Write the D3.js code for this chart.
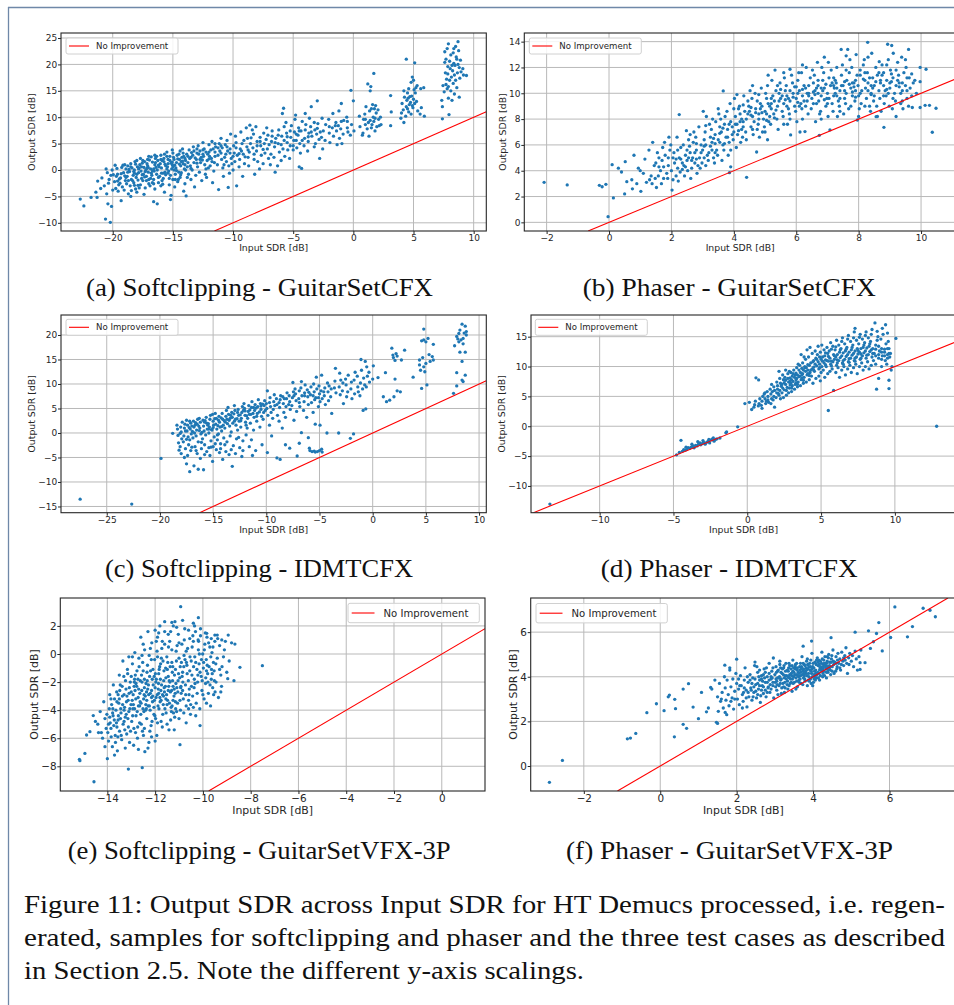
<!DOCTYPE html>
<html><head><meta charset="utf-8">
<script src="https://cdn.jsdelivr.net/npm/d3@7"></script>
<style>body{margin:0;background:#fff}svg{display:block}</style>
</head><body><svg id="fig" width="954" height="1005"></svg>
<script>
// ---------------- DATA ----------------
// (a) Softclipping - GuitarSetCFX : [input SDR, output SDR]
const softclipGuitarSetCFX = [
[-22.7,-5.5],[-22.4,-6.8],[-21.8,-5.2],[-21.3,-5.2],[-21.25,-2.1],[-21.4,-4.2],[-21.0,-3.5],[-20.9,-1.5],
[-20.6,-9.3],[-20.55,0.2],[-20.7,-3.0],[-20.5,-4.5],[-20.4,-6.4],[-20.35,-2.5],[-20.45,-0.5],[-20.2,-9.9],[-20.15,-1.0],[-20.1,-6.9],[-20.0,-3.8],[-20.05,0.0],
[-19.8,0.9],[-19.85,-2.2],[-19.7,-1.2],[-19.75,-3.5],[-19.6,-0.8],[-19.5,-2.8],[-19.65,0.3],[-19.55,-4.0],[-19.3,-5.8],[-19.35,-1.5],[-19.25,0.5],[-19.4,-2.5],[-19.2,-3.2],[-19.0,1.0],[-19.1,-0.5],[-18.95,-2.0],[-19.05,-3.8],[-18.9,0.2],
[-18.8,-1.2],[-18.75,0.8],[-18.85,-2.6],[-18.7,-4.5],[-18.5,1.2],[-18.6,-0.3],[-18.45,-1.8],[-18.55,-3.0],[-18.4,0.4],[-18.5,-5.0],[-18.2,0.0],[-18.3,-1.0],[-18.15,1.6],[-18.25,-2.4],[-18.1,-3.6],[-18.2,-0.6],[-18.0,1.8],[-17.95,0.6],[-18.05,-1.4],[-17.9,-2.9],[-18.0,-4.2],[-17.85,0.2],
[-17.7,2.2],[-17.75,1.0],[-17.65,-0.2],[-17.6,-1.6],[-17.7,-2.8],[-17.55,-0.9],[-17.4,0.5],[-17.45,-0.8],[-17.35,1.6],[-17.5,-2.0],[-17.3,-3.4],[-17.4,-4.6],[-17.25,0.0],[-17.1,2.0],[-17.15,1.2],[-17.05,-0.4],[-17.2,-1.2],[-17.0,-2.6],[-17.1,0.8],[-16.8,2.5],[-16.85,0.2],[-16.75,-1.0],[-16.9,-3.0],[-16.7,1.5],[-16.8,-0.6],
[-16.5,1.0],[-16.55,-0.2],[-16.45,2.2],[-16.6,-1.8],[-16.5,-3.6],[-16.4,0.5],[-16.6,-6.0],[-16.3,-6.4],[-16.25,1.8],[-16.35,-0.8],[-16.2,-2.4],[-16.3,0.0],[-16.0,2.8],[-16.05,1.2],[-15.95,0.4],[-16.1,-1.2],[-15.9,-2.0],[-16.0,-3.0],[-15.7,3.0],[-15.75,1.6],[-15.65,-0.4],[-15.8,-1.6],[-15.6,0.8],[-15.7,-4.2],
[-15.4,2.0],[-15.45,0.6],[-15.35,-0.2],[-15.5,3.4],[-15.3,-2.8],[-15.4,1.2],[-15.2,-5.6],[-15.15,-4.8],[-15.25,1.8],[-15.1,0.2],[-15.2,-1.0],[-15.0,3.2],[-14.95,2.4],[-15.05,1.0],[-14.9,0.0],[-15.0,-1.8],[-14.85,-3.2],[-15.05,3.8],[-14.7,1.4],[-14.75,0.4],[-14.65,2.8],[-14.8,-0.8],[-14.6,-2.2],
[-14.4,3.6],[-14.45,2.0],[-14.35,0.8],[-14.5,-0.4],[-14.3,1.6],[-14.4,-1.4],[-14.1,2.6],[-14.15,1.2],[-14.05,0.2],[-14.2,4.0],[-14.0,-2.6],[-14.1,-4.0],[-13.9,-4.9],[-13.85,3.0],[-13.95,1.8],[-13.8,0.6],[-13.6,2.2],[-13.65,3.8],[-13.55,0.8],[-13.7,-0.8],[-13.5,-1.8],
[-13.3,4.4],[-13.35,2.8],[-13.25,1.4],[-13.4,0.0],[-13.2,-3.2],[-13.0,3.2],[-13.05,2.0],[-12.95,0.6],[-13.1,-1.0],[-12.9,4.6],[-12.7,1.4],[-12.75,3.6],[-12.65,2.4],[-12.8,-0.4],[-12.6,-2.0],[-12.4,4.0],[-12.45,2.6],[-12.35,1.0],[-12.5,5.2],[-12.3,-0.8],
[-12.1,3.0],[-12.15,1.8],[-12.05,0.4],[-12.2,-1.4],[-12.0,4.8],[-11.8,2.2],[-11.85,3.8],[-11.75,5.4],[-11.9,0.8],[-11.7,-2.4],[-11.5,3.4],[-11.55,1.4],[-11.45,4.4],[-11.6,-0.2],[-11.2,-3.7],[-11.25,2.8],[-11.15,5.0],[-11.3,1.0],[-11.1,3.6],
[-10.9,4.2],[-10.95,2.0],[-10.85,0.4],[-11.0,6.0],[-10.8,-1.2],[-10.6,3.0],[-10.65,4.8],[-10.55,1.6],[-10.7,2.4],[-10.4,-3.3],[-10.45,3.6],[-10.35,0.8],[-10.5,5.6],[-10.2,6.8],[-10.25,4.0],[-10.15,2.2],[-10.3,-0.6],[-10.1,1.2],
[-9.9,3.2],[-9.95,4.6],[-9.85,1.6],[-10.0,0.0],[-9.7,-3.0],[-9.75,5.2],[-9.65,2.8],[-9.8,6.4],[-9.4,4.0],[-9.45,2.0],[-9.35,7.2],[-9.5,0.6],[-9.3,3.6],[-9.1,5.6],[-9.15,3.0],[-9.05,1.2],[-9.2,-1.2],
[-8.8,6.0],[-8.85,4.4],[-8.75,2.4],[-8.9,8.0],[-8.6,8.5],[-8.65,3.4],[-8.55,5.0],[-8.7,0.8],[-8.3,6.8],[-8.35,4.2],[-8.25,2.0],[-8.4,7.6],[-8.2,-0.8],[-8.0,5.4],[-8.05,3.6],[-7.95,1.6],[-8.1,8.2],
[-7.7,4.6],[-7.75,6.2],[-7.65,2.8],[-7.8,0.2],[-7.4,5.0],[-7.45,7.0],[-7.35,3.2],[-7.5,1.2],[-7.1,6.6],[-7.15,4.0],[-7.05,2.2],[-7.2,8.0],[-6.8,5.4],[-6.85,3.0],[-6.75,7.4],[-6.9,1.0],
[-6.5,-0.4],[-6.55,4.4],[-6.45,6.0],[-6.6,2.4],[-6.2,7.6],[-6.25,5.0],[-6.15,3.4],[-6.3,0.8],[-5.9,10.7],[-5.95,6.4],[-5.85,4.0],[-6.0,1.8],[-5.8,11.7],[-5.75,8.2],[-5.7,2.6],
[-5.5,5.2],[-5.55,7.0],[-5.45,3.8],[-5.6,9.0],[-5.2,6.2],[-5.25,4.6],[-5.15,8.4],[-5.3,2.2],[-4.9,7.2],[-4.95,5.6],[-4.85,9.6],[-5.0,3.8],[-4.8,10.4],[-4.75,6.8],[-4.7,4.2],
[-4.5,0.6],[-4.55,8.0],[-4.45,5.0],[-4.6,6.6],[-4.3,0.3],[-4.35,7.4],[-4.25,9.2],[-4.4,3.2],[-4.0,10.7],[-4.05,6.0],[-3.95,8.6],[-4.1,4.6],[-3.7,7.0],[-3.75,5.4],[-3.65,9.8],[-3.8,3.6],
[-3.5,12.0],[-3.55,8.2],[-3.45,6.4],[-3.2,7.6],[-3.25,9.0],[-3.15,5.0],[-3.0,13.1],[-3.05,6.8],[-2.95,8.8],[-2.8,2.2],[-2.85,5.8],[-2.75,7.2],
[-2.6,9.8],[-2.65,6.2],[-2.55,4.0],[-2.3,8.6],[-2.35,5.6],[-2.0,7.0],[-2.05,9.6],[-1.95,5.2],[-1.7,10.7],[-1.75,8.0],[-1.65,6.4],
[-1.4,7.4],[-1.45,9.0],[-1.35,4.8],[-1.2,11.2],[-1.25,8.4],[-1.15,6.0],[-1.0,12.6],[-1.05,7.8],[-0.95,5.0],[-0.8,9.4],[-0.85,6.8],
[-0.5,8.0],[-0.55,10.0],[-0.45,7.2],[-0.2,15.1],[-0.25,6.6],[-0.15,8.6],[0.0,13.1],[0.05,7.4],
[0.5,10.2],[0.55,8.2],[0.8,7.0],[0.85,9.6],[0.75,6.6],[1.0,8.6],[1.05,12.0],[0.95,10.6],[1.2,16.3],[1.25,9.0],[1.15,7.8],[1.4,15.0],[1.45,15.8],[1.35,11.2],[1.4,9.4],[1.5,8.0],[1.3,6.4],[1.6,12.4],[1.65,10.0],[1.55,8.6],[1.7,18.3],[1.75,11.6],[1.7,9.2],[1.8,7.4],[1.9,10.8],[1.95,8.2],[1.85,12.2],[2.1,9.6],[2.15,8.4],[2.05,11.4],[2.3,8.6],[2.25,10.0],
[3.1,14.1],[3.1,8.4],[3.15,11.0],
[4.0,10.8],[4.05,12.6],[3.95,9.8],[4.2,9.0],[4.25,13.8],[4.15,11.4],[4.2,15.0],[4.4,21.0],[4.45,13.2],[4.35,10.2],[4.4,12.0],[4.5,14.6],[4.6,15.4],[4.65,12.4],[4.55,13.6],[4.6,11.0],[4.8,16.6],[4.85,14.0],[4.75,12.8],[4.8,10.6],[4.9,17.6],[5.0,13.4],[5.05,15.2],[4.95,11.8],[5.0,17.0],[5.1,20.3],[5.15,14.6],[5.1,12.6],[5.3,16.0],[5.35,11.2],[5.25,13.0],[5.6,15.4],[5.65,11.8],[5.55,10.6],[5.9,10.2],[5.85,15.6],
[7.4,9.7],[7.45,16.0],[7.35,13.2],[7.4,12.0],[7.6,20.4],[7.65,18.4],[7.55,14.8],[7.6,22.4],[7.8,23.0],[7.85,19.6],[7.75,17.2],[7.8,15.4],[7.9,13.6],[7.7,21.0],[7.9,23.9],[7.95,10.5],[7.85,18.2],[8.0,20.6],[8.1,21.8],[8.15,17.6],[8.05,19.2],[8.1,15.0],[8.2,13.2],[8.3,22.2],[8.35,20.2],[8.25,18.8],[8.3,16.4],[8.4,14.4],[8.5,23.4],[8.55,21.4],[8.45,19.8],[8.5,17.0],[8.6,15.6],[8.7,24.3],[8.75,22.6],[8.65,18.4],[8.7,20.0],[8.8,13.8],[8.9,20.8],[8.95,18.6],[8.85,17.4],[9.1,19.2],[9.15,18.0],[9.4,17.9],
[-19.45,-1.7],[-19.15,0.9],[-18.9,-1.4],[-18.65,0.1],[-18.35,-2.0],[-18.1,1.1],[-17.85,-0.5],[-17.6,0.6],[-17.35,-1.3],[-17.15,0.3],[-16.95,1.9],[-16.7,-0.2],[-16.45,1.4],[-16.2,0.9],[-15.95,-0.6],[-15.75,2.2],[-15.5,0.2],[-15.25,2.6],[-15.05,1.5],[-14.85,0.9],[-14.6,2.1],[-14.35,-0.9],[-14.15,3.2],[-13.95,0.0],[-13.75,1.4],[-13.45,3.3],[-13.15,2.3],[-12.85,3.0],[-12.55,1.9],[-12.25,3.4],[-11.95,2.6],[-11.65,4.0],[-16.6,-2.6],[-17.9,-1.9],[-15.85,-2.7],[-14.55,-1.8],[-18.45,-3.9],[-17.0,-1.8],[-15.6,-0.9],[-14.2,1.7],
[-20.3,-1.8],[-19.95,-0.9],[-19.6,-2.1],[-19.3,-0.7],[-19.0,-1.1],[-18.75,-0.4],[-18.5,0.6],[-18.25,-0.3],[-18.0,-0.8],[-17.8,0.4],[-17.55,1.3],[-17.3,-0.3],[-17.05,0.5],[-16.85,-1.6],[-16.6,0.2],[-16.35,2.6],[-16.15,0.6],[-15.9,1.8],[-15.65,1.1],[-15.4,-0.6],[-15.15,1.3],[-14.9,2.0],[-14.7,-0.1],[-14.45,1.1],[-14.25,2.4],[-14.0,1.0],[-13.75,2.6],[-13.5,0.3],[-13.25,3.6],[-13.0,1.3],[-12.75,2.0],[-12.5,3.0],[-12.25,0.2],[-12.0,2.1],[-11.75,1.6],[-11.5,2.6],[-11.25,4.2],[-11.0,3.2],[-10.75,1.0],[-10.5,4.4],[-10.25,3.2],[-10.0,2.6],[-9.75,4.2],[-9.5,3.1],[-9.25,5.0],[-9.0,2.5],[-8.75,3.8],[-8.5,6.1],[-8.25,3.0],[-8.0,4.6],[-7.75,5.4],[-7.5,3.9],[-7.25,5.8],[-7.0,4.8],[-6.75,6.4],[-6.5,5.2],[-6.25,6.6],[-6.0,4.8],[-5.75,5.6],[-5.5,6.3],[-5.25,7.4],[-5.0,4.6],[-4.75,5.6],[-4.5,7.4],[-4.25,5.6],[-4.0,7.6],[-3.75,6.3],[-3.5,7.2],[-3.25,4.4],[-3.0,7.9],[-2.5,7.4],[-2.0,8.2],[-1.5,8.4],[-1.0,9.2],[-0.5,9.2],[-18.7,-2.0],[-18.2,-2.9],[-17.8,-3.4],[-17.2,-2.0],[-16.7,-2.4],[-16.2,-1.4],[-15.8,-0.6],[-15.3,-1.6],[-14.8,-1.8],[-14.3,-0.5],[-13.8,-1.4],[-17.5,1.8],[-17.0,2.6],[-16.5,2.8],[-16.0,2.0],[-15.5,2.6],[-15.0,0.6],[-14.5,3.0],[-14.0,2.2],[-13.5,2.4],[-13.0,4.0],[-12.5,3.8],[-12.0,3.4],[-11.5,5.0],[-11.0,4.6],[1.0,9.6],[1.5,11.6],[1.8,9.8],[4.5,11.6],[4.7,13.9],[4.9,12.2],[5.2,15.6],[7.7,16.2],[8.0,17.0],[8.2,19.8],[8.4,18.0],[8.6,21.0],[8.8,19.4],[7.9,15.8],[8.35,23.0]
];

// (b) Phaser - GuitarSetCFX
const phaserGuitarSetCFX = [
[-2.08,3.1],[-1.34,2.9],[-0.31,2.87],[-0.22,2.76],[-0.1,2.95],[-0.03,0.44],
[0.1,4.47],[0.14,1.89],[0.3,4.2],[0.4,3.9],[0.5,2.2],[0.52,4.7],[0.57,3.15],[0.73,3.3],[0.75,2.6],[0.8,5.2],[0.89,3.0],[0.94,4.2],[1.0,4.0],[1.02,2.4],[1.1,3.8],[1.15,4.9],[1.2,3.1],
[1.3,3.3],[1.35,3.6],[1.28,5.6],[1.4,6.2],[1.45,4.4],[1.38,3.0],[1.5,4.6],[1.55,5.4],[1.48,3.4],[1.52,2.7],[1.6,5.0],[1.65,4.0],[1.58,3.6],[1.7,4.8],[1.72,5.8],[1.68,3.0],[1.75,4.3],[1.8,5.2],[1.85,3.8],[1.78,6.2],[1.9,4.4],[1.95,5.6],[1.88,3.4],[1.92,6.6],[2.0,4.0],[2.05,5.0],[1.98,6.0],[2.02,2.5],[2.1,4.6],[2.15,3.6],[2.08,5.4],[2.2,4.2],[2.25,5.0],[2.18,6.6],[2.22,3.2],[2.3,5.8],[2.35,4.6],[2.28,3.9],[2.25,8.35],[2.4,4.4],[2.45,5.2],[2.38,6.0],[2.42,3.6],[2.5,4.8],[2.55,6.4],[2.48,7.1],[2.52,4.0],[2.6,5.4],[2.65,4.2],[2.58,5.9],[2.62,3.4],[2.7,6.2],[2.75,4.6],[2.68,5.0],[2.72,7.0],[2.8,5.6],[2.85,4.4],[2.78,6.6],[2.82,3.8],[2.9,5.0],[2.95,6.0],[2.88,7.4],[2.92,4.2],
[3.0,5.6],[3.05,6.4],[2.98,4.6],[3.02,8.6],[3.1,6.0],[3.15,5.2],[3.08,7.0],[3.12,8.2],[3.2,5.4],[3.25,6.6],[3.18,4.8],[3.22,7.6],[3.3,6.2],[3.35,5.0],[3.28,7.2],[3.32,8.0],[3.4,6.8],[3.45,5.6],[3.38,4.6],[3.42,7.8],[3.5,6.4],[3.55,7.4],[3.48,5.2],[3.52,8.4],[3.6,7.0],[3.65,6.0],[3.58,8.0],[3.62,4.8],[3.66,10.18],[3.7,7.6],[3.75,6.6],[3.68,5.6],[3.72,8.2],[3.8,7.2],[3.85,6.2],[3.78,8.6],[3.82,5.2],[3.9,7.8],[3.95,6.8],[3.88,9.2],[3.9,4.3],[3.86,3.85],
[4.0,7.0],[4.05,8.2],[3.98,6.4],[4.02,9.6],[4.08,5.8],[4.1,7.6],[4.15,8.8],[4.12,6.8],[4.2,8.4],[4.25,7.2],[4.18,9.0],[4.22,6.2],[4.3,7.8],[4.35,8.6],[4.28,6.6],[4.32,9.8],[4.4,8.0],[4.45,9.4],[4.38,7.0],[4.41,3.49],[4.5,8.6],[4.55,7.4],[4.48,9.0],[4.52,10.2],[4.6,8.2],[4.65,7.8],[4.58,9.6],[4.62,6.8],[4.7,8.8],[4.75,7.2],[4.68,10.0],[4.73,5.45],[4.8,8.4],[4.85,9.2],[4.78,7.6],[4.82,6.6],[4.9,9.0],[4.95,8.0],[4.88,10.4],[4.92,7.0],
[5.0,8.6],[5.05,9.6],[4.98,7.4],[5.02,10.0],[5.08,6.4],[5.1,9.2],[5.15,8.2],[5.08,10.6],[5.12,7.8],[5.2,8.8],[5.25,9.8],[5.18,7.6],[5.22,11.0],[5.3,9.4],[5.32,11.8],[5.28,8.4],[5.35,10.2],[5.4,9.0],[5.45,10.0],[5.38,8.0],[5.42,7.2],[5.5,9.6],[5.55,8.6],[5.48,10.8],[5.6,9.2],[5.65,10.2],[5.58,8.2],[5.62,11.2],[5.7,9.8],[5.75,8.8],[5.68,10.6],[5.72,7.6],[5.8,9.4],[5.8,11.86],[5.85,11.4],[5.78,8.4],[5.82,6.77],[5.9,10.0],[5.95,9.0],[5.88,10.8],
[6.0,9.6],[6.05,11.0],[5.98,8.6],[6.02,7.8],[6.1,10.2],[6.12,7.0],[6.15,9.2],[6.08,11.6],[6.17,11.6],[6.2,9.8],[6.25,10.6],[6.18,8.8],[6.3,10.4],[6.35,9.4],[6.28,7.03],[6.32,12.0],[6.4,10.0],[6.45,11.2],[6.38,8.4],[6.5,9.6],[6.55,10.8],[6.48,8.8],[6.52,11.8],[6.6,10.2],[6.65,9.2],[6.58,11.4],[6.62,7.8],[6.68,12.4],[6.7,10.6],[6.74,6.74],[6.72,9.4],[6.75,8.4],[6.8,9.8],[6.85,11.0],[6.78,8.6],[6.82,12.0],[6.9,10.4],[6.95,9.0],[6.88,11.6],
[7.0,10.0],[7.03,12.4],[6.98,9.6],[7.02,8.2],[7.05,11.2],[7.1,10.6],[7.15,9.2],[7.08,7.16],[7.12,11.8],[7.2,9.8],[7.25,11.0],[7.18,8.6],[7.22,10.4],[7.3,12.0],[7.35,9.4],[7.28,10.8],[7.32,8.2],[7.44,13.4],[7.4,10.2],[7.45,11.4],[7.38,9.0],[7.5,10.6],[7.55,9.6],[7.48,12.2],[7.52,8.4],[7.65,13.4],[7.6,10.0],[7.62,11.0],[7.58,9.2],[7.7,11.6],[7.75,10.4],[7.68,8.8],[7.72,12.6],[7.8,9.8],[7.85,10.8],[7.78,12.0],[7.92,13.0],[7.9,10.2],[7.95,11.4],[7.96,7.93],[7.88,9.4],
[8.0,9.8],[8.05,11.8],[7.98,10.6],[8.02,8.8],[8.1,10.2],[8.15,12.2],[8.08,9.2],[8.2,11.0],[8.25,9.6],[8.18,12.6],[8.22,10.4],[8.29,13.95],[8.3,10.8],[8.35,9.0],[8.28,11.6],[8.42,13.1],[8.4,10.0],[8.45,11.2],[8.38,8.6],[8.5,10.6],[8.55,12.0],[8.48,9.4],[8.56,8.19],[8.66,12.45],[8.6,11.4],[8.65,10.2],[8.58,9.0],[8.7,10.8],[8.75,12.2],[8.68,9.6],[8.72,8.6],[8.8,11.6],[8.85,10.2],[8.81,7.36],[8.82,9.2],[8.93,13.8],[8.9,11.0],[8.95,12.6],[8.88,9.8],
[9.0,10.4],[9.06,13.7],[9.02,11.8],[8.98,9.0],[9.11,13.1],[9.1,11.2],[9.15,10.0],[9.08,8.8],[9.2,10.6],[9.25,12.4],[9.18,9.4],[9.38,12.8],[9.3,10.8],[9.35,9.2],[9.28,11.4],[9.4,10.2],[9.45,11.6],[9.42,8.8],[9.5,10.6],[9.55,9.6],[9.52,12.0],[9.6,13.4],[9.65,10.4],[9.62,11.2],[9.7,9.8],[9.75,10.8],[9.72,8.9],[9.8,11.0],[9.85,10.0],
[9.97,8.9],[9.97,10.9],[9.97,12.0],[10.13,9.07],[10.16,11.86],[10.27,9.07],[10.36,6.98],[10.48,8.84],
[2.15,4.9],[2.45,4.3],[2.75,5.4],[3.05,5.9],[3.35,6.5],[3.65,7.3],[3.95,7.4],[4.25,8.0],[4.55,8.3],[4.85,8.8],[5.15,9.0],[5.45,9.4],[5.75,9.6],[6.05,10.0],[6.35,10.0],[6.65,10.4],[6.95,10.7],[7.25,10.0],[7.55,10.9],[7.85,10.5],[8.15,11.1],[8.45,10.4],[8.75,11.4],[9.05,10.9],[9.35,10.0],
[1.6,4.3],[1.75,3.4],[1.9,5.0],[2.05,3.3],[2.2,5.6],[2.35,4.1],[2.5,5.6],[2.65,4.8],[2.8,6.1],[2.95,5.4],[3.1,4.4],[3.25,5.9],[3.4,6.1],[3.55,6.9],[3.7,6.1],[3.85,7.6],[4.0,8.8],[4.15,7.1],[4.3,9.1],[4.45,8.4],[4.6,7.2],[4.75,9.4],[4.9,8.5],[5.05,7.9],[5.2,9.6],[5.35,8.7],[5.5,10.3],[5.65,9.5],[5.8,8.0],[5.95,10.5],[6.1,9.0],[6.25,9.4],[6.4,10.6],[6.55,9.2],[6.7,11.0],[6.85,10.2],[7.0,9.2],[7.15,10.8],[7.3,9.8],[7.45,10.6],[7.6,11.8],[7.75,9.0],[7.9,11.0],[8.05,10.0],[8.2,9.0],[8.35,11.2],[8.5,9.8],[8.65,11.6],[8.8,10.6],[8.95,10.0],[9.1,9.6],[9.25,11.0],[9.4,9.4],[9.55,10.2],[9.7,11.5],[3.4,5.4],[3.9,5.6],[4.4,6.4],[5.0,7.0],[5.6,7.6],[6.2,8.0],[6.8,8.0],[7.4,8.6],[8.0,8.2],[8.6,8.2],[9.2,8.2],[4.1,9.9],[4.6,10.6],[5.1,11.4],[5.6,11.6],[6.2,12.2],[6.9,12.8],[7.6,12.9],[8.3,12.8],[8.9,12.2],[9.5,12.6],[2.6,6.8],[3.1,7.5],[3.5,8.8],[4.8,9.9],[5.4,10.6],[6.0,10.5],[6.6,9.9],[7.2,10.6],[7.8,10.8],[8.4,10.6],[9.0,10.8],[9.6,9.0],
[2.3,4.9],[2.55,5.0],[2.8,4.9],[3.05,5.0],[3.3,5.6],[3.55,6.2],[3.8,6.6],[4.05,7.6],[4.3,7.4],[4.55,8.9],[4.8,8.0],[5.05,8.4],[5.3,8.1],[5.55,9.8],[5.8,10.2],[6.05,9.3],[6.3,9.0],[6.55,10.1],[6.8,10.4],[7.05,9.6],[7.3,10.4],[7.55,10.2],[7.8,10.1],[8.05,11.4],[8.3,10.2],[8.55,10.9],[8.8,9.8],[9.05,11.5],[9.3,10.5],[9.55,11.2],[5.9,9.7],[6.4,9.8],[6.9,9.5],[7.4,9.6],[7.9,9.7],[8.4,9.9],[8.9,10.3],[9.4,10.8],[4.2,7.8],[4.7,8.5],[5.2,9.2],[5.7,9.0],[6.2,10.3],[6.7,10.0],[7.2,11.2],[7.7,10.7],[8.2,11.6],[8.7,11.0],[9.2,11.8]
];

// (c) Softclipping - IDMTCFX
const softclipIDMTCFX = [
[-27.5,-13.5],[-22.65,-14.5],[-19.9,-5.2],[-18.8,-0.07],
[-18.3,-0.5],[-18.35,0.8],[-18.25,-2.0],[-18.4,1.6],[-18.2,-3.5],[-18.0,0.2],[-18.05,1.2],[-17.95,-1.2],[-18.1,-2.8],[-17.9,2.2],[-18.0,-4.2],[-17.7,1.0],[-17.75,-0.6],[-17.65,1.8],[-17.8,-1.8],[-17.6,-3.2],[-17.7,-5.0],[-17.5,-6.3],[-17.2,-7.9],[-17.4,1.6],[-17.45,0.4],[-17.35,-0.8],[-17.5,2.6],[-17.3,-2.4],[-17.4,-4.6],[-17.1,2.0],[-17.15,0.8],[-17.05,-0.2],[-17.2,-1.4],[-17.0,1.4],[-17.1,-3.6],[-16.8,1.2],[-16.85,2.4],[-16.75,0.0],[-16.9,-1.0],[-16.7,-2.8],[-16.8,-6.7],[-16.5,1.8],[-16.55,0.6],[-16.45,2.8],[-16.6,-0.6],[-16.4,-1.8],[-16.5,-4.2],[-16.4,-7.4],[-16.2,2.2],[-16.25,1.0],[-16.15,-0.2],[-16.3,3.0],[-16.1,-3.2],[-16.2,-5.2],[-15.9,1.4],[-15.95,2.6],[-15.85,0.4],[-16.0,-1.2],[-15.8,-2.4],[-15.9,-7.5],[-15.6,2.0],[-15.65,3.2],[-15.55,0.8],[-15.7,-0.4],[-15.5,1.6],[-15.6,-3.8],[-15.3,2.8],[-15.35,1.2],[-15.25,3.6],[-15.4,0.0],[-15.2,-1.6],[-15.3,-4.6],[-15.0,2.4],[-15.05,3.8],[-14.95,1.6],[-15.1,0.6],[-14.9,-0.8],[-15.0,-2.8],[-15.05,-5.8],[-14.7,3.0],[-14.75,1.8],[-14.65,0.8],[-14.8,4.0],[-14.6,-1.4],[-14.7,-3.4],[-14.4,2.2],[-14.45,3.4],[-14.35,1.2],[-14.5,-0.2],[-14.3,-2.2],[-14.4,-4.0],[-14.1,2.8],[-14.15,4.0],[-14.05,1.6],[-14.2,0.4],[-14.0,-1.0],[-14.1,-5.4],[-13.8,3.4],[-13.85,2.2],[-13.75,4.6],[-13.9,1.0],[-13.7,-1.8],[-13.8,-3.8],[-13.5,2.6],[-13.55,3.8],[-13.45,1.4],[-13.6,5.2],[-13.4,-0.6],[-13.5,-4.4],[-13.2,3.2],[-13.25,4.2],[-13.15,2.0],[-13.3,0.2],[-13.1,-2.6],[-13.2,-6.8],[-12.9,2.8],[-12.95,4.6],[-12.85,1.6],[-13.0,5.6],[-12.8,-1.2],[-12.9,-4.2],[-12.6,3.6],[-12.65,4.8],[-12.55,2.4],[-12.7,0.6],[-12.5,-3.0],[-12.3,4.2],[-12.35,3.0],[-12.25,5.4],[-12.4,1.2],[-12.2,-1.6],[-12.3,-4.8],[-12.0,3.6],[-12.05,5.0],[-11.95,2.2],[-12.1,6.0],[-11.9,-0.4],[-11.7,4.4],[-11.75,3.0],[-11.65,5.6],[-11.8,1.0],[-11.6,-2.8],[-11.4,5.2],[-11.45,3.8],[-11.35,6.4],[-11.5,2.0],[-11.3,-4.6],[-11.1,4.6],[-11.15,3.2],[-11.05,5.8],[-11.2,0.6],[-11.0,-3.6],[-10.8,5.4],[-10.85,4.0],[-10.75,6.8],[-10.9,2.4],[-10.5,4.8],[-10.55,6.0],[-10.45,3.4],[-10.6,1.2],[-10.4,-2.4],[-10.2,5.6],[-10.25,4.2],[-10.15,6.6],[-10.3,2.8],[-9.9,8.6],[-9.95,5.0],[-9.85,3.6],[-9.9,-4.0],[-10.0,6.0],[-9.6,5.4],[-9.65,7.2],[-9.55,4.2],[-9.5,-0.6],[-9.7,1.6],[-9.3,6.4],[-9.35,4.8],[-9.25,7.8],[-9.4,3.0],[-9.0,5.8],[-9.05,7.0],[-8.95,3.6],[-9.0,-5.1],[-8.7,6.8],[-8.75,5.2],[-8.65,7.6],[-8.8,2.4],[-8.7,-5.4],[-8.4,6.0],[-8.45,7.4],[-8.35,4.2],[-8.5,1.0],[-8.2,-2.4],[-8.1,7.0],[-8.15,5.4],[-8.05,8.2],[-8.2,3.2],[-7.8,6.4],[-7.85,7.6],[-7.75,4.8],[-7.8,-3.1],[-7.5,10.3],[-7.55,7.2],[-7.45,8.4],[-7.6,5.6],[-7.4,2.6],[-7.2,6.6],[-7.25,8.0],[-7.15,4.4],[-7.3,9.0],[-7.1,-4.7],[-6.9,8.6],[-6.95,7.0],[-6.85,5.4],[-6.9,-2.1],[-6.7,10.5],[-6.75,9.2],[-6.65,7.6],[-6.7,0.07],[-6.4,8.2],[-6.45,6.4],[-6.35,9.8],[-6.5,4.6],[-6.1,7.4],[-6.15,8.8],[-6.05,5.8],[-6.05,-0.95],[-6.2,3.2],[-5.95,-3.1],[-5.8,9.4],[-5.85,7.8],[-5.75,6.2],[-5.9,-3.6],[-5.7,-3.8],[-5.5,8.4],[-5.55,10.0],[-5.45,6.8],[-5.6,4.2],[-5.5,-3.7],[-5.4,-3.9],[-5.4,1.8],[-5.3,11.4],[-5.35,7.2],[-5.25,9.0],[-5.2,-3.8],[-5.0,8.0],[-5.05,9.6],[-4.95,6.4],[-5.1,5.4],[-5.0,-3.6],[-4.95,1.6],[-4.8,11.8],[-4.85,8.6],[-4.75,7.0],[-4.8,-3.3],[-4.75,-3.9],[-4.5,9.2],[-4.55,7.6],[-4.45,5.8],[-4.3,0.0],[-4.2,8.4],[-4.25,10.2],[-4.15,6.6],[-3.9,9.0],[-3.95,7.4],[-3.85,4.0],[-3.5,13.2],[-3.55,10.6],[-3.45,8.2],[-3.2,0.0],[-3.1,12.2],[-3.15,9.4],[-3.05,7.8],[-2.8,10.2],[-2.85,8.6],[-2.75,6.0],[-2.5,9.8],[-2.55,11.0],[-2.45,7.4],[-2.3,11.8],[-2.35,8.4],[-2.1,-1.1],[-2.0,10.4],[-2.05,9.0],[-1.95,7.0],[-1.8,-0.2],[-1.7,8.0],[-1.75,10.8],[-1.65,12.4],[-1.4,9.4],[-1.45,11.6],[-1.35,8.4],[-1.1,15.0],[-1.15,10.2],[-1.05,12.8],[-1.2,7.6],[-0.9,4.6],[-0.95,9.0],[-0.85,11.2],[-0.7,14.6],[-0.75,9.8],[-0.65,4.9],[-0.56,13.5],[-0.6,9.4],[-0.5,11.6],[-0.3,10.4],[-0.35,12.4],[0.06,13.7],[0.0,11.0],
[0.5,11.3],[1.0,7.4],[1.2,12.3],[1.3,6.4],[1.6,6.7],[1.8,17.3],[1.9,15.9],[2.3,15.7],[2.1,14.8],[2.0,7.4],[2.3,8.6],[2.6,8.4],[3.0,16.9],[2.7,14.9],[2.1,11.0],[1.95,15.4],[2.2,16.2],
[3.8,11.4],[4.6,9.1],[4.8,21.2],[4.8,19.0],[5.2,19.3],[5.7,18.1],[4.4,14.9],[4.8,13.5],[5.4,14.6],[5.7,14.9],[4.9,12.5],[5.1,9.8],[4.4,13.9],[5.0,18.6],[4.6,18.8],[5.0,14.2],[4.7,15.4],[5.3,16.0],[4.5,12.8],[5.6,15.6],
[7.6,8.1],[7.9,9.6],[8.4,10.8],[8.5,10.5],[8.7,11.8],[7.9,12.3],[8.2,16.5],[8.7,16.5],[8.4,14.6],[7.9,19.7],[8.1,20.3],[8.4,22.2],[8.7,21.8],[8.8,20.7],[7.7,17.8],[8.5,19.3],[8.8,20.0],[8.1,18.6],[8.3,19.0],[8.0,19.2],[8.6,20.4],[8.2,21.0],[8.5,18.2],
[-17.25,1.1],[-16.95,0.3],[-16.65,2.1],[-16.35,1.4],[-16.05,0.1],[-15.75,2.5],[-15.45,1.9],[-15.15,0.7],[-14.85,2.9],[-14.55,1.5],[-14.25,3.1],[-13.95,2.5],[-13.65,1.9],[-13.35,3.6],[-13.05,3.9],[-12.75,2.9],[-12.45,3.7],[-12.15,4.6],[-11.85,3.5],[-11.55,4.7],[-11.25,4.0],[-10.95,5.1],[-10.65,4.3],[-10.35,5.9],[-16.1,-1.9],[-15.2,-2.9],[-14.6,-0.4],[-13.9,-2.4],[-12.6,-0.9],[-11.9,1.6],
[-18.1,-0.1],[-17.6,0.4],[-17.2,2.4],[-16.7,1.6],[-16.3,0.5],[-15.8,2.2],[-15.4,0.8],[-15.0,1.1],[-14.5,2.6],[-14.2,1.3],[-13.7,2.8],[-13.4,3.0],[-13.0,2.4],[-12.7,4.2],[-12.4,2.5],[-12.0,4.5],[-11.6,3.8],[-11.2,5.2],[-10.9,3.4],[-10.5,5.5],[-10.1,4.6],[-9.7,6.2],[-9.2,5.6],[-8.8,6.2],[-8.3,7.0],[-7.9,5.8],[-7.4,7.6],[-6.9,6.2],[-6.4,7.6],[-6.0,8.3],[-5.6,7.6],[-5.1,7.2],[-4.6,8.4],[-4.1,9.6],[-3.6,9.2],[-3.0,10.8],[-17.5,-1.3],[-17.0,-2.9],[-16.6,-3.6],[-15.8,-4.4],[-15.4,-3.0],[-14.8,-2.2],[-14.3,-3.2],[-13.3,-3.4],[-12.2,-3.6],[-11.4,-1.4]
];

// (d) Phaser - IDMTCFX
const phaserIDMTCFX = [
[-13.37,-13.03],[12.83,0.0],[5.49,2.64],[-0.65,-0.1],[-1.4,-0.95],[-1.45,-1.1],
[-4.79,-4.78],[-4.49,-2.36],[-4.6,-4.4],[-4.4,-4.2],[-4.3,-3.9],[-4.2,-4.0],[-4.1,-3.9],[-4.0,-3.6],[-3.9,-3.7],[-3.8,-3.5],[-3.7,-3.3],[-3.66,-3.37],[-3.6,-3.6],[-3.5,-3.2],[-3.4,-3.3],[-3.3,-3.0],[-3.2,-2.8],[-3.15,-3.1],[-3.05,-2.9],[-2.95,-2.7],[-2.85,-3.0],[-2.75,-2.7],[-2.65,-2.5],[-2.55,-2.8],[-2.45,-2.3],[-2.35,-2.1],[-2.3,-1.97],[-2.25,-2.5],[-2.15,-2.2],[-2.05,-2.1],[-1.85,-1.97],[-3.35,-2.6],[-3.0,-2.4],[-2.6,-2.2],[-4.15,-3.5],[-3.75,-3.0],
[-0.16,3.8],[0.14,4.0],[0.3,2.8],[0.59,8.1],[0.77,7.75],
[0.5,3.6],[0.55,4.2],[0.45,3.2],[0.8,3.8],[0.85,4.6],[0.75,3.4],[1.0,4.2],[1.05,5.0],[0.95,3.5],[1.0,3.0],[1.2,4.6],[1.25,3.8],[1.15,5.4],[1.2,5.6],[1.4,5.0],[1.45,4.0],[1.35,5.8],[1.4,4.4],[1.6,5.4],[1.65,4.6],[1.55,6.2],[1.6,3.8],[1.65,7.0],[1.8,5.0],[1.85,6.0],[1.75,4.4],[1.8,6.6],[1.85,3.2],[2.0,5.6],[2.05,6.8],[1.95,4.8],[2.0,7.4],[2.05,6.2],[2.2,6.0],[2.25,7.2],[2.15,5.2],[2.2,8.0],[2.25,4.6],[2.15,9.2],[2.4,6.4],[2.45,7.8],[2.35,5.6],[2.4,8.6],[2.45,4.8],[2.35,7.0],[2.6,7.0],[2.65,6.0],[2.55,8.2],[2.6,9.4],[2.65,5.2],[2.8,7.4],[2.85,6.4],[2.75,8.8],[2.8,5.6],[2.85,9.2],[2.75,8.0],[3.0,7.8],[3.05,6.8],[2.95,9.0],[3.0,5.8],[3.05,8.4],[2.95,7.2],[3.2,8.2],[3.25,7.0],[3.15,9.4],[3.2,6.2],[3.25,8.6],[3.4,8.6],[3.45,7.4],[3.35,9.8],[3.4,6.6],[3.45,10.4],[3.35,8.0],[3.6,9.0],[3.65,7.8],[3.55,10.2],[3.6,6.8],[3.65,12.0],[3.55,8.4],[3.8,9.4],[3.85,8.2],[3.75,10.6],[3.8,7.2],[3.85,11.6],[3.75,8.8],
[4.0,9.8],[4.05,8.6],[3.95,11.2],[4.0,7.4],[4.05,12.8],[3.95,9.2],[4.2,10.2],[4.25,9.0],[4.15,11.6],[4.2,7.8],[4.25,13.2],[4.4,9.6],[4.45,10.8],[4.35,8.4],[4.4,12.2],[4.45,7.2],[4.6,10.4],[4.65,11.4],[4.55,9.2],[4.6,12.6],[4.65,8.0],[4.8,10.8],[4.85,9.6],[4.75,12.0],[4.8,13.4],[4.85,8.4],[5.0,11.2],[5.05,10.0],[4.95,12.4],[5.0,9.0],[5.05,13.6],[4.95,7.6],[5.2,10.6],[5.25,11.8],[5.15,9.4],[5.2,12.8],[5.25,8.2],[5.4,11.0],[5.45,12.2],[5.35,10.0],[5.4,13.2],[5.45,8.8],[5.6,11.4],[5.65,10.4],[5.55,12.6],[5.6,9.2],[5.65,14.0],[5.8,10.8],[5.85,12.0],[5.75,9.6],[5.8,13.4],[5.85,6.0],[6.0,11.6],[6.05,10.2],[5.95,12.8],[6.0,9.0],[6.05,14.4],[6.2,11.0],[6.25,12.4],[6.15,9.8],[6.2,13.6],[6.25,8.2],[6.4,11.8],[6.45,10.6],[6.35,13.0],[6.4,9.4],[6.45,14.8],[6.6,11.2],[6.65,12.6],[6.55,10.0],[6.6,13.8],[6.65,8.6],[6.8,12.0],[6.85,10.8],[6.75,13.2],[6.8,9.6],[6.85,15.2],[7.0,11.4],[7.05,12.8],[6.95,10.2],[7.0,14.2],[7.05,9.0],[7.2,12.2],[7.25,11.0],[7.15,13.6],[7.2,9.8],[7.25,15.8],[7.3,16.4],[7.4,11.6],[7.45,13.0],[7.35,10.4],[7.4,14.4],[7.45,8.8],[7.6,12.4],[7.65,11.2],[7.55,13.8],[7.6,10.0],[7.65,15.4],[7.8,11.8],[7.85,13.2],[7.75,10.6],[7.8,14.6],[7.85,9.4],[8.0,12.6],[8.05,11.4],[7.95,14.0],[8.0,10.0],[8.05,15.8],[8.2,12.0],[8.25,13.4],[8.15,10.8],[8.2,14.8],[8.25,9.6],[8.4,12.8],[8.45,11.6],[8.35,14.2],[8.4,10.2],[8.45,16.2],[8.65,17.3],[8.6,12.2],[8.7,13.6],[8.55,11.0],[8.76,6.2],[8.8,14.4],[8.7,10.4],[8.9,8.0],[8.95,12.6],[8.85,15.0],[8.9,11.4],[9.1,13.0],[9.15,11.8],[9.05,14.6],[9.1,10.0],[9.15,16.4],[9.37,17.0],[9.3,12.4],[9.4,13.8],[9.35,11.0],[9.5,12.0],[9.55,14.2],[9.45,10.4],[9.6,6.3],[9.6,7.7],[9.65,11.6],[9.6,13.0],[9.75,9.4],[9.7,12.2],[9.8,10.0],[10.07,14.7],
[2.3,6.7],[2.5,7.3],[2.7,6.5],[2.9,8.1],[3.1,7.5],[3.3,8.9],[3.5,8.3],[3.7,9.7],[3.9,10.0],[4.1,9.4],[4.3,10.6],[4.5,11.0],[4.7,10.1],[4.9,11.6],[5.1,10.9],[5.3,12.3],[5.5,11.7],[5.7,12.9],[5.9,11.2],[6.1,12.0],[6.3,11.5],[6.5,12.3],[6.7,11.7],[6.9,12.4],[7.1,11.9],[7.3,12.6],[7.5,12.1],[7.7,13.0],[7.9,12.3],[8.1,13.1],[8.3,12.5],[8.5,13.0],[8.7,11.8],[8.9,13.4],[9.1,12.4],[9.3,11.8],[9.5,13.0],[2.9,7.6],[3.3,7.8],[3.7,8.6],[4.1,10.3],[4.5,9.9],[4.9,10.4],[5.3,11.1],[5.7,10.9],[6.1,11.1],[6.5,11.0],[6.9,11.3],[7.3,11.4],[7.7,11.4],
[1.3,4.2],[1.7,5.8],[2.1,5.5],[2.5,6.1],[2.9,6.9],[3.3,7.3],[3.7,8.1],[4.1,8.8],[4.5,9.4],[4.9,9.8],[5.3,10.3],[5.7,10.1],[6.1,10.6],[6.5,10.4],[6.9,10.7],[7.3,10.9],[7.7,12.1],[8.1,11.9],[8.5,12.2],[8.9,12.0],[9.3,12.9],[9.6,12.2],[3.1,8.8],[3.5,9.4],[3.9,9.8],[4.3,9.4],[4.7,11.2],[5.1,11.6],[5.5,10.9],[5.9,11.8],[6.3,12.8],[6.7,12.9],[7.1,13.2],[7.5,12.7],[7.9,13.6],[8.3,13.8],[8.7,12.9],[9.1,11.2],[9.5,11.4],[2.6,7.7],[3.0,6.4],[3.4,7.0],[3.8,7.7],[4.2,8.5],[6.0,13.3],[6.4,14.2],[6.8,14.6],[7.2,14.8],[7.6,14.9],[8.0,15.2],[8.4,15.4],[8.8,15.9],[9.2,15.4],[9.5,15.6]
];

// (e) Softclipping - GuitarSetVFX-3P
const softclipGuitarSetVFX3P = [
[-15.15,-7.6],[-15.17,-7.5],[-14.94,-7.08],[-14.87,-5.77],[-14.73,-5.53],[-14.56,-9.1],[-14.37,-5.6],[-14.59,-4.39],[-14.0,-7.46],[-14.1,-6.6],[-13.12,-8.2],[-12.54,-8.1],[-12.43,-6.96],[-10.96,-6.46],[-10.12,-5.1],[-8.45,-0.95],[-7.51,-0.83],[-8.66,0.71],[-8.94,1.35],[-9.21,1.0],[-9.5,1.35],[-9.4,1.35],[-9.84,1.47],[-10.19,2.59],[-10.93,3.37],[-11.17,2.3],[-11.3,2.25],[-10.4,2.2],[-8.7,-1.9],[-8.96,-1.76],
[-14.02,-4.3],[-13.98,-5.6],[-13.95,-6.2],[-13.92,-3.9],[-13.88,-4.9],[-13.85,-5.3],[-13.82,-3.6],[-13.79,-6.6],[-13.76,-4.4],[-13.73,-5.1],[-13.7,-3.2],[-13.67,-5.8],[-13.64,-4.0],[-13.61,-2.7],[-13.58,-6.9],[-13.55,-4.7],[-13.52,-3.5],[-13.49,-5.5],[-13.46,-2.2],[-13.43,-4.2],[-13.4,-6.1],[-13.37,-3.0],[-13.34,-5.0],[-13.31,-1.6],[-13.28,-3.8],[-13.25,-4.5],[-13.22,-2.5],[-13.19,-5.7],[-13.16,-1.1],[-13.13,-3.3],[-13.1,-4.1],[-13.07,-6.3],[-13.04,-2.0],[-13.01,-3.6],[-12.98,-4.8],[-12.95,-0.7],[-12.92,-2.9],[-12.89,-5.3],[-12.86,-3.9],[-12.83,-1.5],[-12.8,-4.4],[-12.77,-2.3],[-12.74,-6.0],[-12.71,-3.1],[-12.68,-0.3],[-12.65,-4.9],[-12.62,-1.9],[-12.59,-3.5],[-12.56,-2.6],[-12.53,-5.5],[-12.5,-1.2],[-12.47,-4.1],[-12.44,0.3],[-12.41,-3.0],[-12.38,-2.1],[-12.35,-4.6],[-12.32,-0.8],[-12.29,-3.7],[-12.26,-6.3],[-12.23,-1.6],[-12.2,-2.8],[-12.17,-5.1],[-12.14,0.8],[-12.11,-3.4],[-12.08,-2.2],[-12.05,-4.3],[-12.02,-0.4],[-11.99,-1.4],[-11.96,-3.1],[-11.93,-5.8],[-11.9,1.2],[-11.87,-2.5],[-11.84,-3.9],[-11.81,-0.9],[-11.78,-1.8],[-11.75,-4.8],[-11.72,0.4],[-11.69,-2.9],[-11.66,-3.6],[-11.63,-1.2],[-11.6,1.6],[-11.57,-2.3],[-11.54,-4.2],[-11.51,-0.2],[-11.48,-3.3],[-11.45,-1.6],[-11.42,-5.4],[-11.39,0.9],[-11.36,-2.7],[-11.33,-3.8],[-11.3,-0.6],[-11.27,-1.9],[-11.24,2.0],[-11.21,-3.0],[-11.18,-4.5],[-11.15,-1.1],[-11.12,0.2],[-11.09,-2.4],[-11.06,-3.5],[-11.03,1.4],[-11.0,-0.3],[-10.97,-1.7],[-10.94,-4.0],[-10.91,-2.8],[-10.88,0.7],[-10.85,-1.3],[-10.82,-3.2],[-10.79,-0.1],[-10.76,1.8],[-10.73,-2.2],[-10.7,-3.7],[-10.67,-0.8],[-10.64,0.4],[-10.61,-1.9],[-10.58,-2.9],[-10.55,1.1],[-10.52,-4.3],[-10.49,-0.5],[-10.46,-1.5],[-10.43,-3.0],[-10.4,0.9],[-10.37,-2.4],[-10.34,-0.2],[-10.31,1.6],[-10.28,-3.5],[-10.25,-1.1],[-10.22,-2.0],[-10.19,0.3],[-10.16,-0.7],[-10.13,-3.9],[-10.1,1.3],[-10.07,-1.6],[-10.04,-2.6],[-10.01,0.0],[-9.98,-1.0],[-9.95,-3.2],[-9.92,0.7],[-9.89,-2.1],[-9.86,-0.4],[-9.83,1.2],[-9.8,-1.4],[-9.77,-2.8],[-9.74,-0.9],[-9.71,0.5],[-9.68,-3.7],[-9.65,-1.8],[-9.62,0.1],[-9.59,-2.4],[-9.56,-0.6],[-9.53,-1.2],[-9.5,0.9],[-9.45,-2.0],[-9.4,-0.3],[-9.35,-3.1],[-9.3,0.6],[-9.25,-1.5],[-9.2,-0.9],[-9.1,0.3],[-9.0,-1.3],[-8.9,-0.5],[-8.8,0.8],
[-13.0,-2.7],[-12.93,-3.9],[-12.87,-2.0],[-12.81,-3.2],[-12.75,-4.1],[-12.69,-2.5],[-12.63,-3.4],[-12.57,-1.5],[-12.51,-3.9],[-12.45,-2.4],[-12.39,-3.6],[-12.33,-1.9],[-12.27,-2.9],[-12.21,-4.0],[-12.15,-2.6],[-12.09,-1.1],[-12.03,-3.3],[-11.97,-2.0],[-11.91,-2.9],[-11.85,-1.4],[-11.79,-3.4],[-11.73,-2.2],[-11.67,-0.5],[-11.61,-2.7],[-11.55,-3.2],[-11.49,-1.1],[-11.43,-2.3],[-11.37,-0.9],[-11.31,-2.6],[-11.25,-3.3],[-11.19,-1.5],[-11.13,-2.1],[-13.2,-3.4],[-13.14,-4.6],[-13.08,-2.4],[-12.96,-3.3],[-12.84,-2.6],[-12.72,-1.8],[-12.6,-4.3],[-12.48,-3.2],[-12.36,-2.7],[-12.24,-3.7],[-12.12,-1.8],[-12.0,-2.4],[-11.88,-3.7],[-11.76,-2.6],[-11.64,-1.9],[-11.52,-2.9],[-11.4,-3.5],[-11.28,-1.3],[-11.16,-2.8],[-11.04,-1.9],[-10.92,-2.3],[-10.8,-0.9],[-13.3,-4.0],[-13.45,-4.6],[-13.6,-5.2],[-13.3,-2.9],[-13.5,-3.2],
[-13.9,-4.5],[-13.84,-5.9],[-13.77,-3.9],[-13.71,-4.7],[-13.66,-6.3],[-13.6,-3.4],[-13.54,-4.4],[-13.48,-2.6],[-13.42,-5.8],[-13.36,-3.6],[-13.3,-4.8],[-13.24,-1.9],[-13.18,-3.0],[-13.12,-5.2],[-13.06,-3.9],[-13.0,-1.6],[-12.94,-4.4],[-12.88,-2.3],[-12.82,-5.6],[-12.76,-1.2],[-12.7,-3.7],[-12.64,-2.8],[-12.58,-5.0],[-12.52,-0.6],[-12.46,-2.9],[-12.4,-4.0],[-12.34,-1.3],[-12.28,-2.2],[-12.22,-5.5],[-12.16,-0.4],[-12.1,-3.0],[-12.04,-1.6],[-11.98,-4.6],[-11.92,0.2],[-11.86,-2.1],[-11.8,-3.1],[-11.74,-0.3],[-11.68,-4.3],[-11.62,-2.4],[-11.56,-1.0],[-11.5,-3.6],[-11.44,0.5],[-11.38,-2.0],[-11.32,-4.1],[-11.26,-0.9],[-11.2,-2.5],[-11.14,-3.9],[-11.08,0.6],[-11.02,-1.4],[-10.96,-3.3],[-10.9,-0.6],[-10.84,-2.0],[-10.78,1.0],[-10.72,-2.9],[-10.66,-1.4],[-10.6,-3.3],[-10.54,-0.2],[-10.48,-2.3],[-10.42,1.3],[-10.36,-1.8],[-10.3,-0.6],[-10.24,-2.8],[-10.18,0.9],[-10.12,-1.3],[-10.06,-0.4],[-10.0,-2.9],[-9.94,0.3],[-9.88,-1.7],[-9.82,-0.8],[-9.76,0.8],[-9.7,-2.2],[-9.64,-1.1],[-9.58,0.5],[-9.52,-1.9],[-9.46,-0.7],[-9.38,1.1],[-9.3,-1.1],[-9.22,-2.3],[-9.14,-0.2],[-9.06,0.9],[-13.95,-5.0],[-14.1,-4.6],[-14.15,-3.4],[-14.3,-4.1],[-14.4,-5.0],[-14.5,-4.8],[-14.2,-6.0],[-13.7,-7.2],[-13.25,-6.7],[-12.9,-6.5],[-12.7,-6.8],[-12.3,-6.7],[-12.0,-6.2],[-11.7,-5.2],[-11.5,-5.0],[-11.2,-5.4],[-11.0,-4.6],[-10.7,-4.9],[-10.4,-3.8],[-10.3,-4.4],[-12.6,1.2],[-12.3,1.6],[-12.0,1.7],[-11.8,2.0],[-11.6,2.3],[-11.45,1.4],[-11.1,1.9],[-10.85,2.4],[-10.6,1.7],[-10.35,2.0],[-10.1,1.8],[-9.9,1.5],[-9.65,1.1],[-13.9,-2.9],[-13.75,-2.2],[-13.5,-1.5],[-13.35,-0.5],[-13.1,-0.2],[-12.85,0.1],[-12.55,-0.1],[-12.2,0.4],[-11.95,0.9],[-11.7,0.9],[-12.8,-2.1],[-12.45,-1.8],[-12.15,-3.1],[-11.85,-2.8],[-11.55,-1.7],[-11.25,-2.3],[-12.65,-3.7],[-12.35,-3.3],[-12.05,-3.8],[-11.75,-3.3],[-11.45,-2.6],[-11.15,-3.4],[-10.85,-2.6],[-10.55,-1.2],
[-13.62,-4.9],[-13.44,-3.9],[-13.27,-5.4],[-13.09,-2.8],[-12.91,-3.6],[-12.73,-5.2],[-12.55,-2.0],[-12.37,-3.9],[-12.19,-1.2],[-12.01,-4.4],[-11.83,-1.1],[-11.65,-3.0],[-11.47,-0.6],[-11.29,-3.7],[-11.11,-0.5],[-10.93,-2.4],[-10.75,-0.4],[-10.57,-2.5],[-10.39,-0.9],[-10.21,-1.5],[-10.03,-1.9],[-9.85,-1.2],[-9.67,-0.2],[-9.49,-2.7],[-13.78,-4.2],[-13.56,-5.9],[-13.38,-2.3],[-13.21,-4.3],[-13.03,-5.5],[-12.86,-1.8],[-12.67,-0.9],[-12.49,-5.8],[-12.31,-2.5],[-12.13,-4.8],[-11.95,-1.8],[-11.77,-0.7],[-11.59,-3.9],[-11.41,-1.9],[-11.23,-4.2],[-11.05,-2.7],[-10.87,-1.6],[-10.69,-0.6],[-10.51,-3.6],[-10.33,-2.1],[-10.15,0.0],[-9.97,-0.6],[-9.79,-2.0],[-9.61,-1.4],[-11.9,-0.2],[-11.6,0.7],[-11.3,0.3],[-11.0,0.8],[-10.7,0.2],[-10.45,0.5],[-10.2,1.0],[-12.25,-0.1],[-12.5,0.7],[-11.85,1.5],[-11.35,1.6],[-10.95,-0.9],[-13.15,-1.4],[-12.95,-0.2],[-13.55,-2.9],[-13.85,-3.2],[-14.05,-5.3],[-14.25,-5.6],[-12.45,-5.3],[-12.15,-5.9],[-11.9,-4.9],[-11.35,-4.7],[-11.1,-4.1],[-10.8,-4.2],[-10.6,-3.9],[-9.85,-3.5],[-9.55,-2.9],[-9.25,-2.7]
];

// (f) Phaser - GuitarSetVFX-3P
const phaserGuitarSetVFX3P = [
[-2.9,-0.73],[-2.56,0.25],[-0.86,1.22],[-0.78,1.25],[-0.64,1.46],[-0.35,2.39],[-0.1,2.79],[0.1,2.48],[0.21,3.1],[0.24,3.18],[0.37,1.31],[0.38,2.99],[0.4,2.57],[0.6,3.45],[0.6,1.87],[0.69,1.69],[0.74,3.69],[0.86,2.64],[1.0,2.12],[1.08,3.3],[1.21,2.43],[1.26,2.6],[1.32,3.52],[1.35,3.45],[1.43,3.85],[1.47,1.96],[1.5,1.91],[1.69,4.52],[1.74,2.3],[1.82,4.3],[2.0,4.79],[2.48,4.66],[2.96,4.84],
[5.1,6.0],[5.45,6.06],[5.66,5.94],[5.72,6.43],[5.81,5.16],[6.03,5.76],[6.14,7.13],[6.47,5.79],[6.6,6.25],[6.88,7.07],[7.2,6.69],[7.06,6.98],[5.23,4.63],[5.36,4.63],[5.23,4.33],[5.5,5.27],[5.58,5.57],[4.47,5.75],[3.96,5.6],[3.74,5.37],
[1.5,3.1],[1.52,2.45],[1.55,3.7],[1.58,2.9],[1.62,3.3],[1.65,2.6],[1.68,4.0],[1.7,3.5],[1.72,2.95],[1.75,3.85],[1.78,3.2],[1.8,2.7],[1.82,4.4],[1.85,3.55],[1.88,3.05],[1.9,3.9],[1.92,2.55],[1.95,3.35],[1.98,4.15],[2.0,3.7],[2.02,3.0],[2.05,3.45],[2.07,2.75],[2.1,4.05],[2.12,3.6],[2.15,3.2],[2.17,2.9],[2.2,3.85],[2.22,4.4],[2.25,3.4],[2.27,2.65],[2.3,3.75],[2.32,3.1],[2.35,4.1],[2.37,3.5],[2.4,2.95],[2.42,3.95],[2.45,3.3],[2.47,4.5],[2.5,3.65],[2.52,3.05],[2.55,4.2],[2.57,3.45],[2.6,3.85],[2.62,2.85],[2.65,4.05],[2.67,3.6],[2.7,3.25],[2.72,4.35],[2.75,3.75],[2.77,3.1],[2.8,4.0],[2.82,3.5],[2.85,4.6],[2.87,3.3],[2.9,3.9],[2.92,4.25],[2.95,3.6],[2.97,3.05],[3.0,4.1],[3.01,3.75],[3.03,4.45],[3.05,3.4],[3.07,3.95],[3.09,4.3],[3.11,3.6],[3.13,4.7],[3.15,3.85],[3.17,3.25],[3.19,4.15],[3.21,3.7],[3.23,4.4],[3.25,3.95],[3.27,3.5],[3.29,4.6],[3.31,4.05],[3.33,3.8],[3.35,4.25],[3.37,3.6],[3.39,4.5],[3.41,3.9],[3.43,4.15],[3.45,3.35],[3.47,4.75],[3.49,4.0],[3.51,3.75],[3.53,4.35],[3.55,3.95],[3.57,4.6],[3.59,3.55],[3.61,4.2],[3.63,3.85],[3.65,4.45],[3.67,4.05],[3.69,3.7],[3.71,4.9],[3.73,4.25],[3.75,3.95],[3.77,4.55],[3.79,3.8],[3.81,4.15],[3.83,4.7],[3.85,3.6],[3.87,4.35],[3.89,4.0],[3.91,4.6],[3.93,3.9],[3.95,4.25],[3.97,5.05],[3.99,4.45],[4.01,3.75],[4.03,4.1],[4.05,4.65],[4.07,4.3],[4.09,3.95],[4.11,4.85],[4.13,4.5],[4.15,4.15],[4.17,3.85],[4.19,4.7],[4.21,4.35],[4.23,5.1],[4.25,4.0],[4.27,4.55],[4.29,4.25],[4.31,4.9],[4.33,4.4],[4.35,3.95],[4.37,4.7],[4.39,4.2],[4.41,5.0],[4.43,4.5],[4.45,4.3],[4.48,4.8],[4.5,4.45],[4.52,5.2],[4.55,4.15],[4.57,4.65],[4.6,4.9],[4.62,4.35],[4.65,5.05],[4.67,4.6],[4.7,4.8],[4.72,4.3],[4.75,5.1],[4.78,4.7],[4.8,4.5],[4.83,4.95],[4.86,5.3],[4.88,4.6],[4.9,4.15],[4.93,4.85],[4.96,5.05],[5.0,4.7],[5.03,4.95],[5.06,4.45],[5.1,5.15],[5.13,4.8],[5.16,4.3],[5.2,4.9],[5.25,5.2],
[3.02,3.55],[3.12,4.0],[3.22,4.1],[3.32,3.65],[3.42,4.35],[3.52,4.1],[3.62,4.0],[3.72,4.1],[3.82,4.4],[3.92,4.3],[4.02,4.4],[4.12,4.2],[4.22,4.6],[4.32,4.6],[3.08,3.2],[3.18,3.5],[3.28,4.25],[3.38,3.95],[3.48,3.7],[3.58,4.3],[3.68,4.2],[3.78,3.9],[3.88,4.15],[3.98,4.0],[4.08,4.55],[4.18,4.4],[4.28,4.75],[4.38,4.45],[3.05,3.8],[3.15,4.4],[3.25,3.3],[3.35,4.0],[3.45,4.5],[3.55,3.45],[3.65,4.3],[3.75,4.35],[3.85,4.8],[3.95,3.7],[4.05,4.0],[4.15,4.75],[4.25,4.35],[4.35,4.2],[2.9,3.45],[2.8,3.75],[2.7,3.55],[2.6,4.3],[2.5,3.35],[2.4,3.7],[2.3,3.3],[2.2,3.5],[2.55,3.7],[2.65,3.4],[2.75,4.2],[2.85,3.85],[2.95,4.4],
[3.04,4.2],[3.14,3.7],[3.24,4.5],[3.34,3.45],[3.44,4.05],[3.54,4.55],[3.64,3.75],[3.74,4.6],[3.84,4.05],[3.94,4.75],[4.04,4.25],[4.14,3.95],[4.24,4.8],[4.34,4.35],[4.44,4.65],[4.54,4.55],[4.64,4.75],[4.74,4.55],[4.84,4.75],[4.94,4.55],[3.1,3.95],[3.2,4.35],[3.3,3.9],[3.4,3.7],[3.5,4.2],[3.6,4.05],[3.7,4.45],[3.8,4.25],[3.9,3.8],[4.0,4.6],[4.1,4.1],[4.2,4.45],[4.3,4.05],[4.4,4.85],[4.5,4.25],[4.6,4.6],[4.7,4.4],[4.8,4.85],[2.35,3.85],[2.45,3.55],[2.55,3.2],[2.65,3.9],[2.75,3.4],[2.85,4.15],[2.95,3.75],[2.6,3.6],[2.7,4.1],[2.8,3.3],[2.9,4.0],[3.06,3.65],[3.16,4.2],[3.26,3.75],[3.36,4.4],[3.46,3.9],[3.56,4.1],[3.66,3.9],[3.76,4.15],[3.86,4.55],[3.96,4.15],[4.06,3.85],[4.16,4.55],[4.26,4.15],[4.36,4.6],[4.46,4.1],[1.95,3.0],[2.05,3.9],[2.15,2.6],[2.25,3.05],[1.6,3.0],[1.7,2.4],[1.85,2.9],
[3.03,3.9],[3.13,4.55],[3.23,3.55],[3.33,4.3],[3.43,3.75],[3.53,4.45],[3.63,4.15],[3.73,3.65],[3.83,4.3],[3.93,4.45],[4.03,3.9],[4.13,4.65],[4.23,4.25],[4.33,4.5],[4.43,4.4],[4.53,4.7],[4.63,4.45],[3.07,4.25],[3.17,3.9],[3.27,4.05],[3.37,4.6],[3.47,4.25],[3.57,3.8],[3.67,4.6],[3.77,4.05],[3.87,3.85],[3.97,4.35],[4.07,4.15],[4.17,4.3],[4.27,4.45],[4.37,4.9],[4.47,4.65],[2.88,3.65],[2.78,4.4],[2.68,3.8],[2.58,4.0],[2.48,3.9],[2.38,3.4],[2.28,4.0],[2.18,3.3],[2.08,3.6],[2.93,3.95],[2.83,3.55],[2.73,3.95],[2.63,3.15],[2.53,4.45],[2.43,3.1],[3.99,3.6],[3.89,4.45],[3.79,4.5],[3.69,4.35],[3.59,4.4],[3.49,4.4],[3.39,4.1],[4.09,4.75],[4.19,4.05],[4.29,4.6],[4.39,4.3],[4.49,4.95],[4.59,4.25]
];

// axis limits and tick labels
const xLimA=[-24.3,11.05], yLimA=[-11.55,25.95], xTicksA=[-20,-15,-10,-5,0,5,10], yTicksA=[-10,-5,0,5,10,15,20,25];
const xLimB=[-2.715,11.12], yLimB=[-0.67,14.67], xTicksB=[-2,0,2,4,6,8,10], yTicksB=[0,2,4,6,8,10,12,14];
const xLimC=[-29.3,10.68], yLimC=[-16.27,24.08], xTicksC=[-25,-20,-15,-10,-5,0,5,10], yTicksC=[-15,-10,-5,0,5,10,15,20];
const xLimD=[-14.65,14.14], yLimD=[-14.48,18.63], xTicksD=[-10,-5,0,5,10], yTicksD=[-10,-5,0,5,10,15];
const xLimE=[-15.97,1.81], yLimE=[-9.76,3.99], xTicksE=[-14,-12,-10,-8,-6,-4,-2,0], yTicksE=[-8,-6,-4,-2,0,2];
const xLimF=[-3.39,7.74], yLimF=[-1.12,7.53], xTicksF=[-2,0,2,4,6], yTicksF=[0,2,4,6];

// texts
const xLabel = "Input SDR [dB]";
const yLabel = "Output SDR [dB]";
const legendLabel = "No Improvement";
const subCaptions = ["(a) Softclipping - GuitarSetCFX","(b) Phaser - GuitarSetCFX","(c) Softclipping - IDMTCFX","(d) Phaser - IDMTCFX","(e) Softclipping - GuitarSetVFX-3P","(f) Phaser - GuitarSetVFX-3P"];
const captionLines = ["Figure 11: Output SDR across Input SDR for HT Demucs processed, i.e. regen-","erated, samples for softclipping and phaser and the three test cases as described","in Section 2.5. Note the different y-axis scalings."];

// ---------------- LAYOUT ----------------
const svg = d3.select('#fig');
const SANS = "DejaVu Sans, sans-serif";

function pickSerif(){
  const cands = ["Liberation Serif","DejaVu Serif","Noto Serif","Tinos","Times New Roman","FreeSerif","Nimbus Roman","Nimbus Roman No9 L","Georgia"];
  const c = document.createElement('canvas').getContext('2d');
  const s = "Softclipping GuitarSetCFX wwmmiill 0123";
  const w = f => { c.font = "40px " + f; return c.measureText(s).width; };
  const bm = w("monospace"), bs = w("sans-serif");
  for (const f of cands) {
    const q = '"' + f + '"';
    if (Math.abs(w(q + ", monospace") - bm) > 0.5 || Math.abs(w(q + ", sans-serif") - bs) > 0.5) return q + ", serif";
  }
  return "serif";
}
const SERIF = pickSerif();

const small = {tick:9, label:9.3, legend:8.6, legW:112, legH:16, l0:3, l1:23, lt:30};
const large = {tick:10.4, label:10.9, legend:10.1, legW:131.3, legH:19.4, l0:3.7, l1:26.5, lt:35.5};

const panels = [
 {data:softclipGuitarSetCFX, xLim:xLimA, yLim:yLimA, xt:xTicksA, yt:yTicksA, L:61, R:486.3, T:33, B:231, ylx:32, xly:250.5, fs:small, legX:66, legY:38, cap:subCaptions[0], capX:86, capW:347, capY:295.5},
 {data:phaserGuitarSetCFX, xLim:xLimB, yLim:yLimB, xt:xTicksB, yt:yTicksB, L:524.3, R:956, T:33, B:231, ylx:502.6, xly:250.5, fs:small, legX:529.3, legY:38, cap:subCaptions[1], capX:582.7, capW:293, capY:295.5},
 {data:softclipIDMTCFX, xLim:xLimC, yLim:yLimC, xt:xTicksC, yt:yTicksC, L:61, R:486.3, T:315, B:512.7, ylx:32, xly:533, fs:small, legX:66, legY:319.3, cap:subCaptions[2], capX:105, capW:308, capY:577.3},
 {data:phaserIDMTCFX, xLim:xLimD, yLim:yLimD, xt:xTicksD, yt:yTicksD, L:531, R:956, T:315, B:512.7, ylx:501.7, xly:533, fs:small, legX:535.3, legY:319.3, cap:subCaptions[3], capX:600.7, capW:257, capY:577.3},
 {data:softclipGuitarSetVFX3P, xLim:xLimE, yLim:yLimE, xt:xTicksE, yt:yTicksE, L:60.3, R:485, T:598, B:791, ylx:34.3, xly:814, fs:large, legX:348, legY:603.3, cap:subCaptions[4], capX:67.7, capW:383, capY:859.3},
 {data:phaserGuitarSetVFX3P, xLim:xLimF, yLim:yLimF, xt:xTicksF, yt:yTicksF, L:530.7, R:956, T:598, B:791, ylx:513.3, xly:814, fs:large, legX:536, legY:603.5, cap:subCaptions[5], capX:566, capW:327, capY:859.3}
];

svg.append('line').attr('x1',8).attr('x2',954).attr('y1',7.5).attr('y2',7.5).attr('stroke','#6f88a8').attr('stroke-width',1.3);
svg.append('line').attr('x1',8.5).attr('x2',8.5).attr('y1',7).attr('y2',1005).attr('stroke','#6f88a8').attr('stroke-width',1.3);

const defs = svg.append('defs');

panels.forEach((p,i)=>{
  const x = d3.scaleLinear().domain(p.xLim).range([p.L,p.R]);
  const y = d3.scaleLinear().domain(p.yLim).range([p.B,p.T]);
  const cid = 'clip'+i;
  defs.append('clipPath').attr('id',cid).append('rect')
    .attr('x',p.L).attr('y',p.T).attr('width',p.R-p.L).attr('height',p.B-p.T);
  const g = svg.append('g');
  const plot = g.append('g').attr('clip-path',`url(#${cid})`);
  plot.selectAll('line.gx').data(p.xt).join('line').attr('class','gx')
    .attr('x1',d=>x(d)).attr('x2',d=>x(d)).attr('y1',p.T).attr('y2',p.B)
    .attr('stroke','#b9b9b9').attr('stroke-width',1);
  plot.selectAll('line.gy').data(p.yt).join('line').attr('class','gy')
    .attr('y1',d=>y(d)).attr('y2',d=>y(d)).attr('x1',p.L).attr('x2',p.R)
    .attr('stroke','#b9b9b9').attr('stroke-width',1);
  plot.selectAll('circle').data(p.data).join('circle')
    .attr('cx',d=>x(d[0])).attr('cy',d=>y(d[1])).attr('r',1.65).attr('fill','#1f77b4');
  const lo = Math.max(p.xLim[0],p.yLim[0]), hi = Math.min(p.xLim[1],p.yLim[1]);
  plot.append('line').attr('x1',x(lo)).attr('y1',y(lo)).attr('x2',x(hi)).attr('y2',y(hi))
    .attr('stroke','#ff0000').attr('stroke-width',1.1);
  g.append('rect').attr('x',p.L).attr('y',p.T).attr('width',p.R-p.L).attr('height',p.B-p.T)
    .attr('fill','none').attr('stroke','#262626').attr('stroke-width',1.1);
  const fmt = d3.format('d');
  const ax = g.append('g').attr('transform',`translate(0,${p.B})`)
    .call(d3.axisBottom(x).tickValues(p.xt).tickFormat(fmt).tickSize(3).tickPadding(0.5));
  const ay = g.append('g').attr('transform',`translate(${p.L},0)`)
    .call(d3.axisLeft(y).tickValues(p.yt).tickFormat(fmt).tickSize(3).tickPadding(0.8));
  [ax,ay].forEach(a=>{
    a.select('.domain').remove();
    a.attr('font-family',SANS).attr('font-size',p.fs.tick);
    a.selectAll('line').attr('stroke','#262626');
    a.selectAll('text').attr('fill','#262626');
  });
  g.append('text').attr('x',(p.L+p.R)/2).attr('y',p.xly).attr('text-anchor','middle')
    .attr('font-family',SANS).attr('font-size',p.fs.label).attr('fill','#262626').text(xLabel);
  g.append('text').attr('transform',`translate(${p.ylx},${(p.T+p.B)/2}) rotate(-90)`)
    .attr('dy','0.36em').attr('text-anchor','middle')
    .attr('font-family',SANS).attr('font-size',p.fs.label).attr('fill','#262626').text(yLabel);
  const f = p.fs;
  const lg = g.append('g').attr('transform',`translate(${p.legX},${p.legY})`);
  lg.append('rect').attr('width',f.legW).attr('height',f.legH).attr('rx',2)
    .attr('fill','#fff').attr('fill-opacity',0.85).attr('stroke','#d0d0d0').attr('stroke-width',1);
  lg.append('line').attr('x1',f.l0).attr('x2',f.l1).attr('y1',f.legH/2).attr('y2',f.legH/2)
    .attr('stroke','#ff0000').attr('stroke-width',1.1);
  lg.append('text').attr('x',f.lt).attr('y',f.legH/2).attr('dy','0.36em')
    .attr('font-family',SANS).attr('font-size',f.legend).attr('fill','#262626').text(legendLabel);
  svg.append('text').attr('x',p.capX).attr('y',p.capY)
    .style('font-family',SERIF).attr('font-size',25).attr('fill','#111')
    .attr('textLength',p.capW).attr('lengthAdjust','spacingAndGlyphs').text(p.cap);
});

const capLayout = [{y:913.3,w:921},{y:946.3,w:921},{y:979.3,w:560}];
captionLines.forEach((t,i)=>{
  svg.append('text').attr('x',24).attr('y',capLayout[i].y)
    .style('font-family',SERIF).attr('font-size',25).attr('fill','#111')
    .attr('textLength',capLayout[i].w).attr('lengthAdjust','spacingAndGlyphs').text(t);
});
</script>
</body></html>
